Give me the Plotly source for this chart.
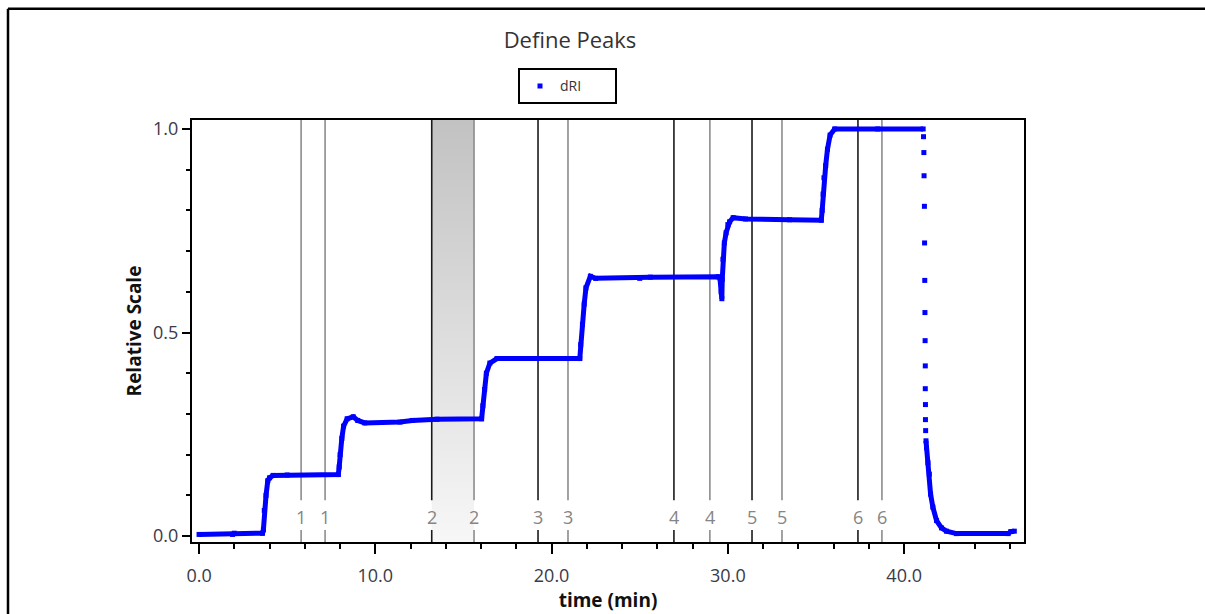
import plotly.graph_objects as go

# dRI trace, dense segment (rising plateau steps up to the end of the top plateau)
steps_t = [0.0, 1.9, 2.0, 3.6, 3.65, 3.7, 3.8, 3.9, 4.0, 4.2, 5.0, 7.9,
           7.95, 8.0, 8.1, 8.2, 8.4, 8.75, 9.0, 9.4, 11.4, 12.1, 13.5, 16.03,
           16.1, 16.2, 16.3, 16.5, 16.9, 21.6,
           21.65, 21.75, 21.85, 21.95, 22.2, 22.5, 25.0, 25.6, 29.45,
           29.55, 29.62, 29.66, 29.68, 29.72, 29.8, 29.9, 30.0, 30.1, 30.3, 31.0, 33.5, 35.3,
           35.35, 35.4, 35.45, 35.55, 35.65, 35.8, 36.06, 38.5, 41.08]
steps_v = [0.004, 0.004, 0.007, 0.007, 0.015, 0.063, 0.10, 0.136, 0.143, 0.149, 0.150, 0.151,
           0.17, 0.20, 0.24, 0.27, 0.288, 0.293, 0.284, 0.278, 0.280, 0.284, 0.287, 0.288,
           0.32, 0.36, 0.40, 0.425, 0.436, 0.436,
           0.47, 0.52, 0.57, 0.61, 0.638, 0.633, 0.633, 0.636, 0.637,
           0.634, 0.60, 0.583, 0.63, 0.68, 0.72, 0.745, 0.765, 0.772, 0.782, 0.779, 0.777, 0.776,
           0.80, 0.84, 0.88, 0.91, 0.95, 0.985, 1.0, 1.0, 1.0]

# dRI trace, sparse samples of the fast drop after the last plateau
drop_t = [41.10, 41.12, 41.13, 41.15, 41.16, 41.17, 41.18, 41.19, 41.20, 41.20, 41.21, 41.21, 41.22]
drop_v = [0.981, 0.942, 0.885, 0.810, 0.720, 0.628, 0.549, 0.480, 0.418, 0.362, 0.323, 0.286, 0.259]

# dRI trace, dense tail back to baseline
tail_t = [41.24, 41.27, 41.35, 41.43, 41.50, 41.63, 41.84, 42.12, 42.40, 42.97, 45.90, 46.05, 46.25]
tail_v = [0.234, 0.217, 0.180, 0.152, 0.103, 0.071, 0.038, 0.020, 0.012, 0.006, 0.006, 0.011, 0.012]

# Peak boundaries (start, end) and their labels
peak_ids = ["1", "2", "3", "4", "5", "6"]
peak_start = [5.79, 13.20, 19.23, 26.94, 31.37, 37.38]
peak_end = [7.15, 15.60, 20.93, 28.98, 33.07, 38.74]
start_colors = ["#8c8c8c", "#1a1a1a", "#1a1a1a", "#1a1a1a", "#1a1a1a", "#1a1a1a"]
end_color = "#8c8c8c"
selected_peak = "2"

x_range = [-0.4, 46.8]
y_range = [-0.0146, 1.022]
marker_gap_hi = 0.088   # upper end of the gap around the peak number
marker_gap_lo = 0.015   # lower end of the gap
label_y = 0.047

fig = go.Figure()

# Shaded band over the selected peak
i_sel = peak_ids.index(selected_peak)
a, b = peak_start[i_sel], peak_end[i_sel]
fig.add_trace(go.Scatter(
    x=[a, b, b, a, a], y=[y_range[0], y_range[0], y_range[1], y_range[1], y_range[0]],
    mode="none", fill="toself",
    fillgradient=dict(type="vertical", colorscale=[[0, "#f7f7f7"], [1, "#c2c2c2"]]),
    showlegend=False, hoverinfo="skip"))

# Peak boundary lines, broken around the number label
def boundary(t, color):
    fig.add_trace(go.Scatter(
        x=[t, t, None, t, t],
        y=[y_range[1], marker_gap_hi, None, marker_gap_lo, y_range[0]],
        mode="lines", line=dict(color=color, width=1.6),
        showlegend=False, hoverinfo="skip"))

for pid, s, e, sc in zip(peak_ids, peak_start, peak_end, start_colors):
    boundary(s, sc)
    boundary(e, end_color)
    for t in (s, e):
        fig.add_annotation(x=t, y=label_y, text=pid, showarrow=False,
                           font=dict(family="Open Sans", size=18, color="#858585"))

# Continuous parts of the detector trace
fig.add_trace(go.Scatter(
    x=steps_t + [None] + tail_t, y=steps_v + [None] + tail_v,
    mode="lines", line=dict(color="#0000ff", width=5),
    showlegend=False, hoverinfo="skip"))

# All detector samples
fig.add_trace(go.Scatter(
    x=steps_t + drop_t + tail_t, y=steps_v + drop_v + tail_v,
    mode="markers", name="dRI",
    marker=dict(color="#0000ff", size=5, symbol="square")))

# Outer frame
fx = (8 - 192) / 832
fy = (545 - 8) / 425
fig.add_shape(type="line", xref="paper", yref="paper", x0=fx, x1=1.4, y0=fy, y1=fy,
              line=dict(color="black", width=2.5))
fig.add_shape(type="line", xref="paper", yref="paper", x0=fx, x1=fx, y0=fy, y1=-0.4,
              line=dict(color="black", width=2.5))

tick_font = dict(family="Open Sans", size=18, color="#3a3a48")
title_font = dict(family="Open Sans", size=19, color="#111111")

fig.update_layout(
    width=1205, height=614,
    margin=dict(l=192, r=181, t=120, b=69),
    paper_bgcolor="white", plot_bgcolor="white",
    title=dict(text="Define Peaks", x=570 / 1205, xanchor="center",
               y=1 - 40 / 614, yanchor="middle",
               font=dict(family="Open Sans", size=22, color="#333333")),
    legend=dict(orientation="h", x=(518 - 192) / 832, y=(545 - 68) / 425,
                xanchor="left", yanchor="top",
                bordercolor="black", borderwidth=2, bgcolor="white",
                font=dict(family="Open Sans", size=14, color="#333333"),
                entrywidth=50, itemsizing="trace", tracegroupgap=0),
    xaxis=dict(range=x_range, tick0=0, dtick=10, tickformat=".1f",
               showgrid=False, zeroline=False,
               showline=True, linecolor="black", linewidth=2, mirror=True,
               ticks="outside", ticklen=10, tickwidth=1.5, tickcolor="black",
               minor=dict(dtick=2, ticks="outside", ticklen=5, tickcolor="black", tickwidth=1.5),
               tickfont=tick_font, ticklabelstandoff=6,
               title=dict(text="<b>time (min)</b>", font=title_font, standoff=2)),
    yaxis=dict(range=y_range, tick0=0, dtick=0.5, tickformat=".1f",
               showgrid=False, zeroline=False,
               showline=True, linecolor="black", linewidth=2, mirror=True,
               ticks="outside", ticklen=8, tickwidth=1.5, tickcolor="black",
               minor=dict(dtick=0.1, ticks="outside", ticklen=4, tickcolor="black", tickwidth=1.5),
               tickfont=tick_font,
               title=dict(text="<b>Relative Scale</b>", font=title_font, standoff=6)),
)

fig.write_html("out.html")
